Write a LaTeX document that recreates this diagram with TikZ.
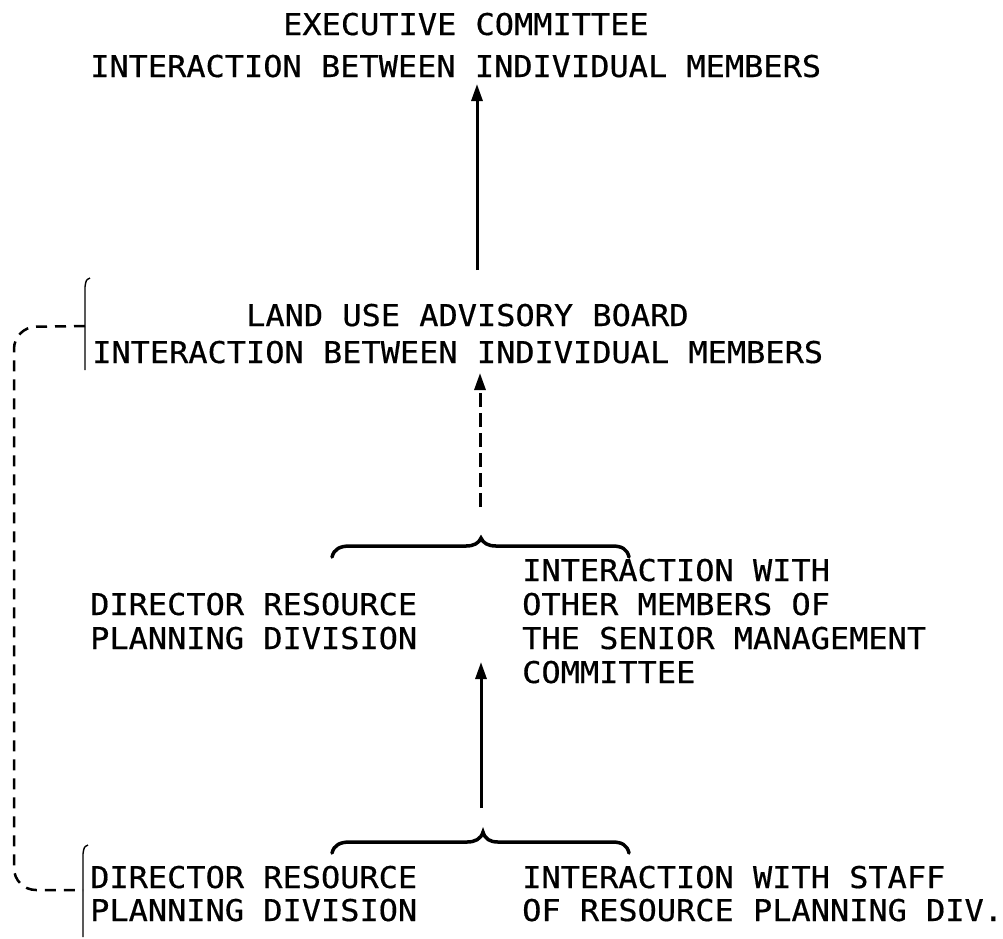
\documentclass[tikz,border=0pt]{standalone}
\usepackage{fontspec}
\usetikzlibrary{arrows.meta}
\newfontfamily\typewriter{DejaVu Sans Mono}[FakeStretch=1.065,FakeBold=0.5]
\begin{document}
\begin{tikzpicture}[x=1pt,y=-1pt,
  txt/.style={anchor=base west, inner sep=0pt, font=\typewriter\fontsize{30}{36}\selectfont},
  flow/.style={line width=3pt, -{Triangle[length=17pt,width=11pt]}},
  dflow/.style={flow, line width=3pt, dash pattern=on 14pt off 6pt},
  brace/.style={line width=3.5pt, line cap=round},
  bracket/.style={line width=1.4pt},
  link/.style={line width=2.5pt, dash pattern=on 11pt off 8pt, rounded corners=22pt}]
\path[use as bounding box] (0,0) rectangle (1003,938);

% executive committee
\node[txt] (ec1) at (283,35) {EXECUTIVE COMMITTEE};
\node[txt] (ec2) at (90,77) {INTERACTION BETWEEN INDIVIDUAL MEMBERS};

% land use advisory board
\node[txt] (lu1) at (246,326) {LAND USE ADVISORY BOARD};
\node[txt] (lu2) at (92,363) {INTERACTION BETWEEN INDIVIDUAL MEMBERS};

% director and senior management committee
\node[txt] (dm1) at (90,615) {DIRECTOR RESOURCE};
\node[txt] (dm2) at (90,649) {PLANNING DIVISION};
\node[txt] (im1) at (522,581) {INTERACTION WITH};
\node[txt] (im2) at (522,615) {OTHER MEMBERS OF};
\node[txt] (im3) at (522,649) {THE SENIOR MANAGEMENT};
\node[txt] (im4) at (522,683) {COMMITTEE};

% director and division staff
\node[txt] (db1) at (90,888) {DIRECTOR RESOURCE};
\node[txt] (db2) at (90,921) {PLANNING DIVISION};
\node[txt] (ib1) at (522,888) {INTERACTION WITH STAFF};
\node[txt] (ib2) at (522,921) {OF RESOURCE PLANNING DIV.};

% arrow ends
\coordinate (a1s) at (477,270);
\coordinate (a1e) at (477,84);
\coordinate (a2s) at (480,507);
\coordinate (a2e) at (480,373);
\coordinate (a3s) at (481,808);
\coordinate (a3e) at (481,662);

\draw[flow] (a1s) -- (a1e);
\draw[dflow] (a2s) -- (a2e);
\draw[flow] (a3s) -- (a3e);

% braces over the two-part groups
\draw[brace] (332,557) .. controls (334,549) and (340,546) .. (350,546)
  -- (466,546) .. controls (474,546) and (479,543) .. (481,538)
  .. controls (483,543) and (488,546) .. (496,546)
  -- (612,546) .. controls (622,546) and (627,549) .. (629,557);
\draw[brace] (332,853) .. controls (334,845) and (340,842) .. (350,842)
  -- (467,842) .. controls (475,842) and (481,839) .. (483,832)
  .. controls (485,839) and (490,842) .. (498,842)
  -- (612,842) .. controls (622,842) and (627,845) .. (629,853);

% side brackets
\draw[bracket] (90,278) .. controls (86,280) .. (85,287) -- (85,370);
\draw[bracket] (88,845) .. controls (84,847) .. (83,854) -- (83,937);

% dashed link between the two brackets
\coordinate (lt) at (85,326);
\coordinate (lb) at (83,890);
\draw[link] (lt) -- (14,327) -- (14,890) -- (lb);
\end{tikzpicture}
\end{document}
